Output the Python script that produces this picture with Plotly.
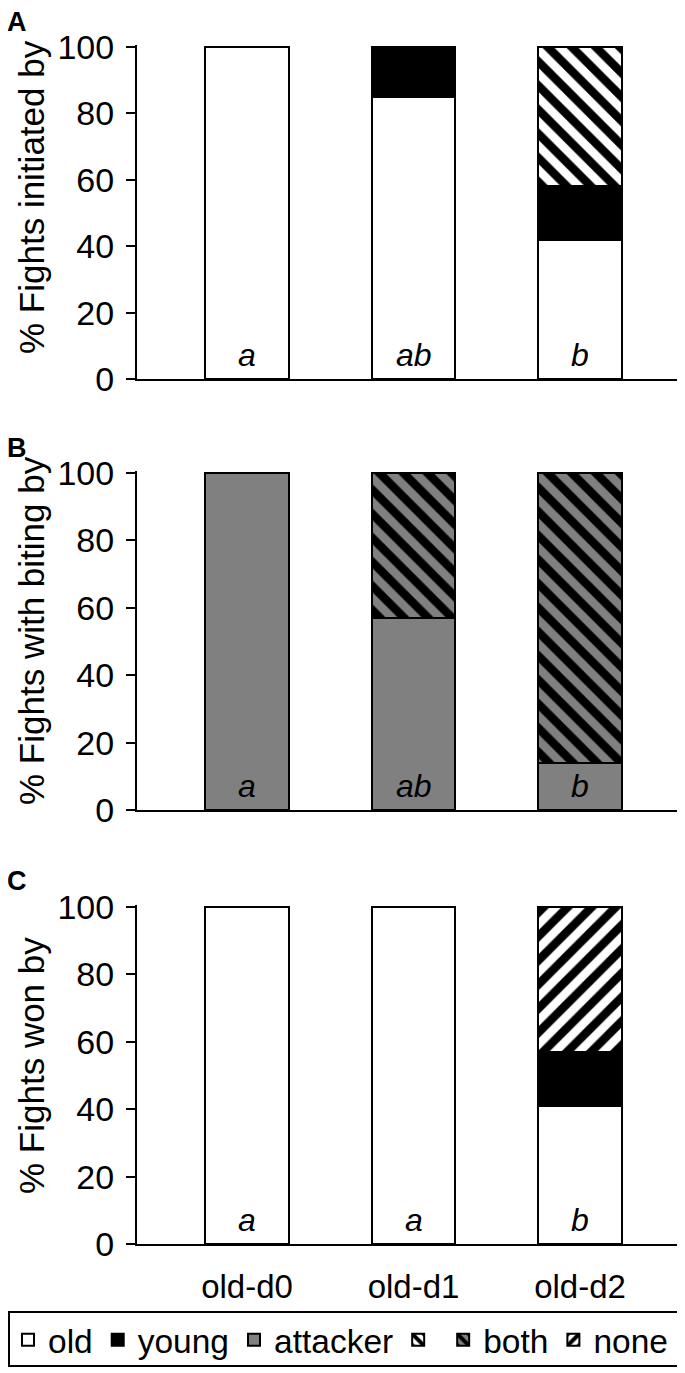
import plotly.graph_objects as go
from plotly.subplots import make_subplots

categories = ["old-d0", "old-d1", "old-d2"]

# Panel A: % fights initiated by
a_old = [100, 85, 42]
a_young = [0, 15, 16]
a_both = [0, 0, 42]
a_letters = ["a", "ab", "b"]

# Panel B: % fights with biting by
b_attacker = [100, 57, 14]
b_both = [0, 43, 86]
b_letters = ["a", "ab", "b"]

# Panel C: % fights won by
c_old = [100, 100, 41]
c_young = [0, 0, 16]
c_none = [0, 0, 43]
c_letters = ["a", "a", "b"]

y_titles = ["% Fights initiated by", "% Fights with biting by", "% Fights won by"]
panel_labels = ["A", "B", "C"]

FONT = "Liberation Sans, Arial, sans-serif"
GRAY = "#808080"
LINE = dict(color="black", width=2)
BW = 0.5

fig = make_subplots(rows=3, cols=1)

def bar(x, y, name, color, row, show, rank, pattern=None, group=None):
    marker = dict(color=color, line=LINE)
    if pattern:
        marker["pattern"] = pattern
    fig.add_trace(go.Bar(x=x, y=y, name=name, marker=marker, width=BW,
                         showlegend=show, legendrank=rank,
                         legendgroup=group or name),
                  row=row, col=1)

def pat(shape, bg):
    return dict(shape=shape, fgcolor="black", bgcolor=bg, size=17,
                solidity=0.5, fillmode="replace", fgopacity=1)

# Panel A
bar(categories, a_old, "old", "white", 1, True, 1)
bar(categories, a_young, "young", "black", 1, True, 2)
bar(categories, a_both, "", "white", 1, True, 4, pat("\\", "white"), "bothw")
# Panel B
bar(categories, b_attacker, "attacker", GRAY, 2, True, 3)
bar(categories, b_both, "both", GRAY, 2, True, 5, pat("\\", GRAY), "bothg")
# Panel C
bar(categories, c_old, "old", "white", 3, False, 1)
bar(categories, c_young, "young", "black", 3, False, 2)
bar(categories, c_none, "none", "white", 3, True, 6, pat("/", "white"))

# page offset (body margin) = 8px; screen coords -> paper fractions
OFF = 8
ML = 129
W_PLOT = 685 - ML
HF = 1236.0
MB = 1373 - int(HF)

def py(s):
    return (HF - (s - OFF)) / HF

def pxx(s):
    return (s - OFF - ML) / W_PLOT

domains = [(py(379), py(45)), (py(810), py(471)), (py(1244), py(905))]
xrange_ = [-0.6607, -0.6607 + W_PLOT / 166.5]

for i, dom in enumerate(domains):
    n = "" if i == 0 else str(i + 1)
    fig.layout["yaxis" + n].update(
        domain=list(dom), range=[0, 100.6], tickvals=[0, 20, 40, 60, 80, 100],
        showline=True, linecolor="black", linewidth=2, ticks="outside",
        ticklen=9, tickwidth=2, tickcolor="black", showgrid=False, zeroline=False,
        automargin=False, ticklabelstandoff=5,
        tickfont=dict(family=FONT, size=34, color="black"))
    fig.layout["xaxis" + n].update(
        range=xrange_, showline=True, linecolor="black", linewidth=2,
        ticks="", showgrid=False, zeroline=False, automargin=False,
        showticklabels=(i == 2), ticklabelstandoff=12, tickangle=0,
        tickfont=dict(family=FONT, size=33, color="black"))

annotations = []
letters_all = [a_letters, b_letters, c_letters]
for i, letters in enumerate(letters_all):
    n = "" if i == 0 else str(i + 1)
    for cat, lt in zip(categories, letters):
        annotations.append(dict(x=cat, y=0, xref="x" + n, yref="y" + n,
                                text="<i>" + lt + "</i>", showarrow=False,
                                yanchor="bottom", yshift=4,
                                font=dict(family=FONT, size=32, color="black")))

title_y = [197, 631, 1066]
for t, yc in zip(y_titles, title_y):
    annotations.append(dict(x=pxx(31), y=py(yc), xref="paper", yref="paper",
                            text=t, textangle=-90, showarrow=False,
                            xanchor="center", yanchor="middle",
                            font=dict(family=FONT, size=35, color="black")))

label_y = [22, 448, 881]
for lab, yc in zip(panel_labels, label_y):
    annotations.append(dict(x=pxx(17), y=py(yc), xref="paper", yref="paper",
                            text="<b>" + lab + "</b>", showarrow=False,
                            xanchor="center", yanchor="middle",
                            font=dict(family=FONT, size=27, color="black")))

fig.update_layout(
    width=685, height=1373,
    margin=dict(l=ML, r=0, t=0, b=MB),
    barmode="stack",
    paper_bgcolor="white", plot_bgcolor="white",
    annotations=annotations,
    showlegend=True,
    legend=dict(orientation="h", xref="paper", x=pxx(8), xanchor="left",
                y=py(1340), yanchor="middle", borderwidth=0,
                font=dict(family=FONT, size=33.5, color="black"),
                itemwidth=30, tracegroupgap=0, bgcolor="rgba(0,0,0,0)"),
    shapes=[dict(type="rect", xref="paper", yref="paper",
                 x0=pxx(9), x1=pxx(683), y0=py(1366), y1=py(1312),
                 line=dict(color="black", width=2), fillcolor="rgba(0,0,0,0)")],
)

fig.write_html("out.html")
